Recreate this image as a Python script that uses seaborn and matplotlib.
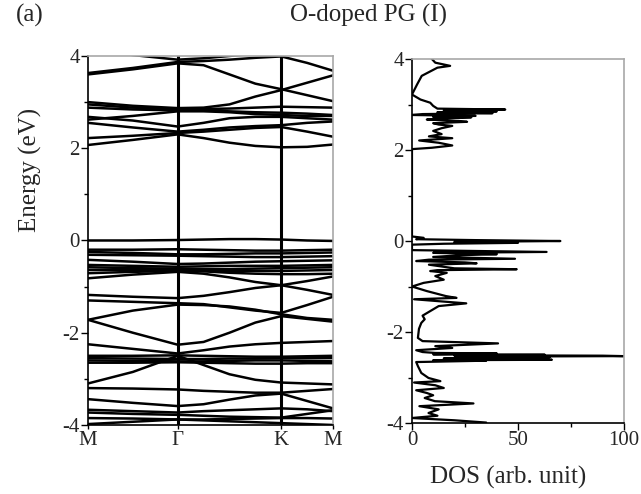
import numpy as np
import pandas as pd
import seaborn as sns
import matplotlib
matplotlib.use("Agg")
import matplotlib.pyplot as plt
from matplotlib.ticker import MultipleLocator

# --- k-path: M - Gamma - K - M (hexagonal lengths) ---
k_labels = ['M', 'Γ', 'K', 'M']
k_nodes = [0.0, 0.866, 1.866, 2.366]
k_samples = [0.0, 0.433, 0.866, 1.116, 1.366, 1.616, 1.866, 2.116, 2.366]

# band energies (eV) read at the k_samples positions
bands = {
    'c01': [4.15, 4.02, 3.92, 3.95, 4.00, 4.05, 4.10, 4.20, 4.30],
    'c02': [3.63, 3.74, 3.87, 3.89, 3.92, 3.96, 3.99, 3.85, 3.68],
    'c03': [3.60, 3.71, 3.84, 3.80, 3.60, 3.40, 3.28, 3.15, 3.02],
    'c04': [3.00, 2.92, 2.87, 2.88, 2.95, 3.12, 3.26, 3.42, 3.58],
    'c05': [2.95, 2.88, 2.85, 2.85, 2.86, 2.88, 2.90, 2.89, 2.88],
    'c06': [2.88, 2.84, 2.82, 2.82, 2.80, 2.78, 2.77, 2.75, 2.72],
    'c07': [2.62, 2.70, 2.80, 2.80, 2.78, 2.74, 2.72, 2.70, 2.70],
    'c08': [2.68, 2.60, 2.47, 2.55, 2.65, 2.68, 2.68, 2.65, 2.62],
    'c09': [2.55, 2.45, 2.36, 2.40, 2.45, 2.48, 2.50, 2.55, 2.58],
    'c10': [2.22, 2.27, 2.33, 2.36, 2.40, 2.44, 2.46, 2.36, 2.25],
    'c11': [2.07, 2.18, 2.30, 2.22, 2.12, 2.05, 2.02, 2.03, 2.08],
    'v01': [0.00, 0.00, 0.01, 0.02, 0.03, 0.03, 0.02, 0.00, -0.01],
    'v02': [-0.20, -0.20, -0.19, -0.20, -0.21, -0.22, -0.22, -0.21, -0.20],
    'v03': [-0.25, -0.27, -0.30, -0.30, -0.29, -0.28, -0.28, -0.27, -0.26],
    'v04': [-0.31, -0.32, -0.33, -0.34, -0.35, -0.36, -0.36, -0.35, -0.34],
    'v05': [-0.42, -0.46, -0.51, -0.50, -0.48, -0.46, -0.45, -0.44, -0.43],
    'v06': [-0.53, -0.55, -0.57, -0.56, -0.55, -0.55, -0.55, -0.54, -0.53],
    'v07': [-0.58, -0.60, -0.61, -0.62, -0.62, -0.61, -0.60, -0.59, -0.58],
    'v08': [-0.64, -0.64, -0.64, -0.65, -0.66, -0.66, -0.66, -0.65, -0.64],
    'v09': [-0.71, -0.68, -0.66, -0.67, -0.70, -0.72, -0.73, -0.73, -0.72],
    'v10': [-0.82, -0.74, -0.68, -0.72, -0.80, -0.90, -0.97, -1.07, -1.18],
    'v11': [-1.18, -1.22, -1.25, -1.20, -1.12, -1.03, -0.97, -0.88, -0.78],
    'v12': [-1.30, -1.33, -1.36, -1.38, -1.45, -1.52, -1.57, -1.40, -1.22],
    'v13': [-1.72, -1.52, -1.39, -1.40, -1.43, -1.50, -1.60, -1.68, -1.72],
    'v14': [-1.72, -2.00, -2.26, -2.20, -2.00, -1.78, -1.64, -1.70, -1.76],
    'v15': [-2.25, -2.35, -2.45, -2.38, -2.30, -2.25, -2.22, -2.20, -2.18],
    'v16': [-2.50, -2.50, -2.49, -2.50, -2.51, -2.52, -2.52, -2.51, -2.50],
    'v17': [-2.55, -2.56, -2.57, -2.57, -2.56, -2.56, -2.55, -2.55, -2.55],
    'v18': [-2.60, -2.61, -2.62, -2.62, -2.61, -2.60, -2.60, -2.61, -2.62],
    'v19': [-2.65, -2.65, -2.64, -2.65, -2.66, -2.67, -2.67, -2.66, -2.66],
    'v20': [-3.10, -2.85, -2.50, -2.70, -2.90, -3.02, -3.08, -3.10, -3.12],
    'v21': [-3.20, -3.21, -3.23, -3.26, -3.28, -3.30, -3.30, -3.26, -3.22],
    'v22': [-3.44, -3.52, -3.59, -3.55, -3.45, -3.36, -3.32, -3.48, -3.64],
    'v23': [-3.67, -3.70, -3.73, -3.70, -3.68, -3.66, -3.64, -3.66, -3.70],
    'v24': [-3.73, -3.76, -3.78, -3.80, -3.82, -3.83, -3.84, -3.76, -3.68],
    'v25': [-3.85, -3.86, -3.88, -3.88, -3.87, -3.86, -3.85, -3.85, -3.86],
    'v26': [-3.98, -3.93, -3.88, -3.90, -3.92, -3.94, -3.96, -3.98, -4.00],
}

# density of states
dos_energy = [4.02, 3.92, 3.85, 3.81, 3.63, 3.44, 3.22, 3.11, 3.04, 2.97,
              2.91, 2.89, 2.87, 2.85, 2.83, 2.81, 2.79, 2.77, 2.75, 2.73,
              2.72, 2.69, 2.67, 2.64, 2.62, 2.59, 2.56, 2.53, 2.48, 2.42,
              2.35, 2.30, 2.26, 2.21, 2.16, 2.10, 2.05, 2.02, 0.10, 0.07,
              0.04, 0.02, 0.00, -0.02, -0.04, -0.06, -0.08, -0.20, -0.22,
              -0.24, -0.26, -0.27, -0.29, -0.31, -0.35, -0.37, -0.39, -0.41,
              -0.44, -0.47, -0.49, -0.52, -0.55, -0.60, -0.62, -0.64, -0.66,
              -0.70, -0.77, -0.85, -0.92, -1.00, -1.10, -1.21, -1.25, -1.28,
              -1.37, -1.43, -1.54, -1.64, -1.72, -1.80, -1.93, -2.13, -2.20,
              -2.25, -2.31, -2.35, -2.40, -2.44, -2.46, -2.47, -2.49, -2.50,
              -2.51, -2.52, -2.53, -2.54, -2.55, -2.56, -2.57, -2.58, -2.60,
              -2.61, -2.62, -2.63, -2.64, -2.66, -2.75, -2.90, -3.01, -3.08,
              -3.11, -3.17, -3.23, -3.28, -3.34, -3.39, -3.45, -3.52, -3.57,
              -3.63, -3.70, -3.78, -3.84, -3.89, -3.94, -3.99, -4.05]
dos_value = [9, 11, 18, 12, 4.6, 2.4, 0, 4, 8.6, 10,
             12, 44, 15, 40, 12, 38, 5, 0, 30, 10,
             28, 12, 7, 22, 26, 10, 12.6, 19, 14, 10,
             14, 8, 19, 3.4, 12.6, 19, 9.4, 0, 0, 5.5,
             2, 30, 70, 20, 50, 15, 0, 0, 30,
             63.5, 10, 21, 40, 24, 10, 30, 48.6, 8,
             2, 25, 30.5, 8, 12.6, 20, 49.4, 12, 8.6,
             16.4, 11, 15, 5.5, 0, 7, 16, 21, 1,
             25.6, 12.6, 8.6, 5, 6, 4.4, 3.3, 2.8, 5,
             40.6, 11, 19, 2, 5, 11, 40, 10, 62.7,
             20, 90, 100, 30, 65, 20, 59, 15, 50,
             66, 10, 35, 25.6, 2, 2.8, 4.4, 7.8, 13.4,
             1, 11, 15, 2, 7, 10, 6, 10.8, 29,
             3.5, 12.6, 7.8, 12, 0, 20, 35, 30]

band_df = pd.DataFrame(
    [(name, k, e) for name, es in bands.items() for k, e in zip(k_samples, es)],
    columns=['band', 'k', 'E'])
dos_df = pd.DataFrame({'E': dos_energy, 'DOS': dos_value})

sns.set_style('ticks')
plt.rcParams['font.family'] = ['Liberation Serif', 'DejaVu Serif']
plt.rcParams['axes.unicode_minus'] = False

fig = plt.figure(figsize=(6.41, 4.94), dpi=100)
ax1 = fig.add_axes([0.1373, 0.1397, 0.3822, 0.747])
ax2 = fig.add_axes([0.6427, 0.1437, 0.3307, 0.7368])

gray = '#a8a8a8'

# band structure
sns.lineplot(data=band_df, x='k', y='E', units='band', estimator=None,
             color='black', linewidth=1.8, ax=ax1, legend=False)
for kx in k_nodes[1:3]:
    ax1.axvline(kx, color='black', linewidth=2.2)
ax1.set_xlim(k_nodes[0], k_nodes[-1])
ax1.set_ylim(-4, 4)
ax1.set_xticks(k_nodes)
ax1.set_xticklabels(k_labels)
ax1.set_xlabel('')
ax1.set_ylabel('')

# density of states
sns.lineplot(data=dos_df, x='DOS', y='E', orient='y', estimator=None,
             color='black', linewidth=1.6, ax=ax2, legend=False)
ax2.set_xlim(0, 100)
ax2.set_ylim(-4, 4)
ax2.set_xticks([0, 50, 100])
ax2.set_xticklabels(['0', '50', '100'])
ax2.xaxis.set_minor_locator(MultipleLocator(25))
ax2.set_xlabel('')
ax2.set_ylabel('')

for ax in (ax1, ax2):
    ax.set_yticks([-4, -2, 0, 2, 4])
    ax.set_yticklabels(['-4', '-2', '0', '2', '4'])
    ax.yaxis.set_minor_locator(MultipleLocator(1))
    ax.tick_params(which='major', direction='out', length=5, width=1,
                   labelsize=15, pad=1, color='black')
    ax.tick_params(which='minor', direction='out', length=3, width=1, color='black')
    for side in ('left', 'bottom'):
        ax.spines[side].set_color('black')
        ax.spines[side].set_linewidth(1.2)
    for side in ('top', 'right'):
        ax.spines[side].set_visible(True)
        ax.spines[side].set_color(gray)
        ax.spines[side].set_linewidth(1.2)
ax1.tick_params(axis='x', length=3)

fig.text(30 / 641, 1 - 170 / 494, 'Energy (eV)', rotation=90, fontsize=18,
         ha='center', va='center')
fig.text(508 / 641, 1 - 477 / 494, 'DOS (arb. unit)', fontsize=18,
         ha='center', va='center')
fig.text(369 / 641, 1 - 15 / 494, 'O-doped PG (I)', fontsize=18,
         ha='center', va='center')
fig.text(30 / 641, 1 - 15 / 494, '(a)', fontsize=18, ha='center', va='center')

fig.savefig('out.png', dpi=100)
